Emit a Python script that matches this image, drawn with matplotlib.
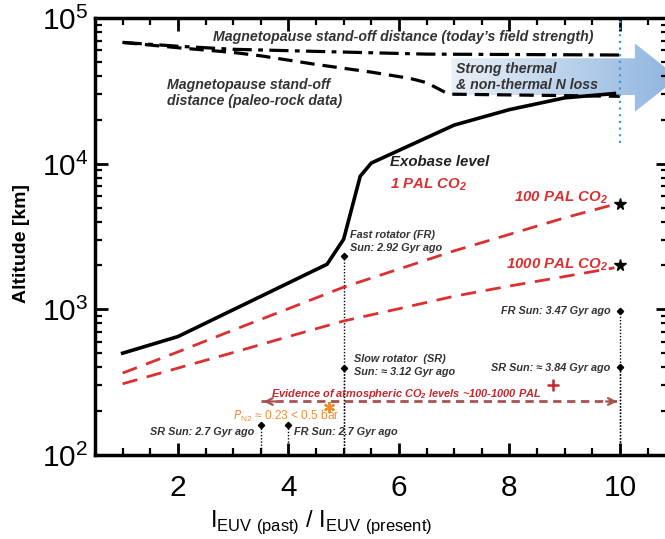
import numpy as np
import matplotlib
matplotlib.use('Agg')
import matplotlib.pyplot as plt
from matplotlib.patches import Polygon

# exobase level (1 PAL CO2)
exo_x = [1, 2, 4.7, 5.0, 5.3, 5.5, 7, 8, 9, 9.9]
exo_y = [500, 650, 2040, 3030, 8200, 10100, 18400, 23500, 28300, 30300]

# 100 / 1000 PAL CO2
pal_x = [1, 2, 3, 4, 5, 6, 7, 8, 9, 9.9]
pal100_y = [365, 510, 720, 1010, 1420, 1890, 2520, 3270, 4250, 5250]
pal1000_y = [308, 395, 505, 650, 832, 1010, 1230, 1445, 1680, 1930]

# magnetopause stand-off distances
today_x = [1, 2, 3, 4.5, 6.5, 10]
today_y = [68000, 64000, 61000, 59000, 56500, 55700]
paleo_x = [1, 2, 3, 3.5, 4.5, 5.5, 6.2, 6.5, 6.9, 10]
paleo_y = [68000, 62500, 58000, 55000, 48000, 42500, 38500, 36000, 30000, 29000]

# sun rotator markers
fr_x = [5, 10, 4.0]
fr_y = [2310, 968, 160]
sr_x = [5, 10, 3.5]
sr_y = [393, 400, 160]
star_x = [10, 10]
star_y = [5300, 2000]

ev_x = [3.5, 10]
ev_y = 233

plt.rcParams['font.family'] = ['Liberation Sans', 'DejaVu Sans']
red = '#dc2f2f'
gray = '#333333'

fig = plt.figure(figsize=(6.65, 5.39), dpi=100)
ax = fig.add_axes([95/665, 84/539, 573/665, 437/539])
ax.set_yscale('log')
ax.set_xlim(0.5, 10.87)
ax.set_ylim(100, 1e5)

# gradient arrow
ylo, yhi = 29600, 52900
hlo, hhi = 22700, 67000
tip = np.sqrt(hlo * hhi)
arrow = Polygon([(6.95, ylo), (6.95, yhi), (10.27, yhi), (10.27, hhi), (11.05, tip),
                 (10.27, hlo), (10.27, ylo)], closed=True, facecolor='none',
                edgecolor='none', transform=ax.transData)
ax.add_patch(arrow)
grad = np.linspace(0, 1, 256).reshape(1, -1)
cmap = matplotlib.colors.LinearSegmentedColormap.from_list('g', ['#eaf0f7', '#8db4df'])
im = ax.imshow(grad, extent=[6.95, 11.05, hlo, hhi], aspect='auto', cmap=cmap,
               zorder=1, interpolation='bilinear')
im.set_clip_path(arrow)
ax.set_xlim(0.5, 10.87)
ax.set_ylim(100, 1e5)

ax.plot([10, 10], [13800, 1e5], ls=(0, (1, 2)), color='#3d9be0', lw=1.6, zorder=3)

ax.plot(today_x, today_y, color='black', lw=2.3, ls=(0, (6, 2, 1.5, 2)), zorder=2)
ax.plot(paleo_x, paleo_y, color='black', lw=2.3, ls=(0, (4.5, 2.5)), zorder=2)
ax.plot(exo_x, exo_y, color='black', lw=2.6, zorder=4)
ax.plot(pal_x, pal100_y, color=red, lw=2.0, ls=(0, (5.5, 3.5)), zorder=4)
ax.plot(pal_x, pal1000_y, color=red, lw=2.0, ls=(0, (5.5, 3.5)), zorder=4)

for xs, ys in [(fr_x, fr_y), (sr_x, sr_y)]:
    ax.vlines(xs, 100, ys, colors='black', linestyles=(0, (1, 1.3)), lw=1.0, zorder=3)
    ax.plot(xs, ys, 'D', color='black', ms=3.2, zorder=5)
ax.plot(star_x, star_y, '*', color='black', ms=8.5, zorder=5)

# evidence double arrow
ax.plot(ev_x, [ev_y, ev_y], color='#a8524f', lw=2.0, ls=(0, (3, 2)), zorder=4)
ax.annotate('', xy=(ev_x[1], ev_y), xytext=(ev_x[1] - 0.3, ev_y),
            arrowprops=dict(arrowstyle='->', color='#a8524f', lw=1.6, mutation_scale=12))
ax.annotate('', xy=(ev_x[0], ev_y), xytext=(ev_x[0] + 0.3, ev_y),
            arrowprops=dict(arrowstyle='->', color='#a8524f', lw=1.6, mutation_scale=12))

bi = dict(style='italic', weight='bold')
ax.text(2.63, 74000, "Magnetopause stand-off distance (today\u2019s field strength)",
        fontsize=10.2, color=gray, va='center', **bi)
ax.text(1.81, 30500, "Magnetopause stand-off\ndistance (paleo-rock data)",
        fontsize=10.2, color=gray, va='center', linespacing=1.25, **bi)
ax.text(7.03, 39300, "Strong thermal\n& non-thermal N loss",
        fontsize=10.2, color=gray, va='center', linespacing=1.25, zorder=6, **bi)
ax.text(5.83, 10230, "Exobase level", fontsize=10.8, color='#222222', va='center', **bi)
ax.text(5.83, 7230, "1 PAL CO$_\\mathregular{2}$", fontsize=10.8, color=red, va='center', **bi)
ax.text(9.78, 5890, "100 PAL CO$_\\mathregular{2}$", fontsize=10.8, color=red, va='center', ha='right', **bi)
ax.text(9.78, 2040, "1000 PAL CO$_\\mathregular{2}$", fontsize=10.8, color=red, va='center', ha='right', **bi)

ax.text(5.11, 2930, "Fast rotator (FR)\nSun: 2.92 Gyr ago", fontsize=7.8, color=gray,
        va='center', linespacing=1.4, **bi)
ax.text(5.18, 412, "Slow rotator  (SR)\nSun: \u2248 3.12 Gyr ago", fontsize=7.8, color=gray,
        va='center', linespacing=1.4, **bi)
ax.text(9.83, 968, "FR Sun: 3.47 Gyr ago", fontsize=7.8, color=gray, va='center', ha='right', **bi)
ax.text(9.83, 393, "SR Sun: \u2248 3.84 Gyr ago", fontsize=7.8, color=gray, va='center', ha='right', **bi)
ax.text(3.39, 143, "SR Sun: 2.7 Gyr ago", fontsize=7.8, color=gray, va='center', ha='right', **bi)
ax.text(4.1, 143, "FR Sun: 2.7 Gyr ago", fontsize=7.8, color=gray, va='center', **bi)

ax.text(3.68, 261, "Evidence of atmospheric CO$_\\mathregular{2}$ levels ~100-1000 PAL",
        fontsize=7.9, color='#c0282d', va='center', **bi)
ax.plot([8.78], [300], marker='+', ms=8, mew=1.8, color='#c0282d', zorder=5)
ax.text(2.99, 184, "$\\mathit{P}_\\mathregular{N2}$ \u2248 0.23 < 0.5 bar", fontsize=8.6,
        color='#ec8f35', va='center')
ax.plot([4.74], [212], marker=(6, 2, 0), ms=8, mew=1.6, color='#ec8f35', zorder=5)

# axes styling
for sp in ax.spines.values():
    sp.set_linewidth(2.5)
ax.set_xticks([2, 4, 6, 8, 10])
ax.set_xticks(np.arange(1, 11, 0.5), minor=True)
ax.tick_params(which='both', direction='in', top=True, right=True, width=2)
ax.tick_params(which='major', length=9, labelsize=21.5, pad=14)
ax.tick_params(which='minor', length=5, width=1.6)
ax.set_yticks([1e2, 1e3, 1e4, 1e5])
ax.set_yticklabels(['10$^\\mathregular{%d}$' % k for k in [2, 3, 4, 5]])
ax.tick_params(axis='y', which='major', pad=5)
ax.set_ylabel('Altitude [km]', fontsize=14, weight='bold')
ax.yaxis.set_label_coords(-0.113, 0.485)
ax.set_xlabel('I$_\\mathregular{EUV\\ (past)}$ / I$_\\mathregular{EUV\\ (present)}$', fontsize=17)
ax.xaxis.set_label_coords(0.395, -0.122)

fig.savefig('out.png', dpi=100)
